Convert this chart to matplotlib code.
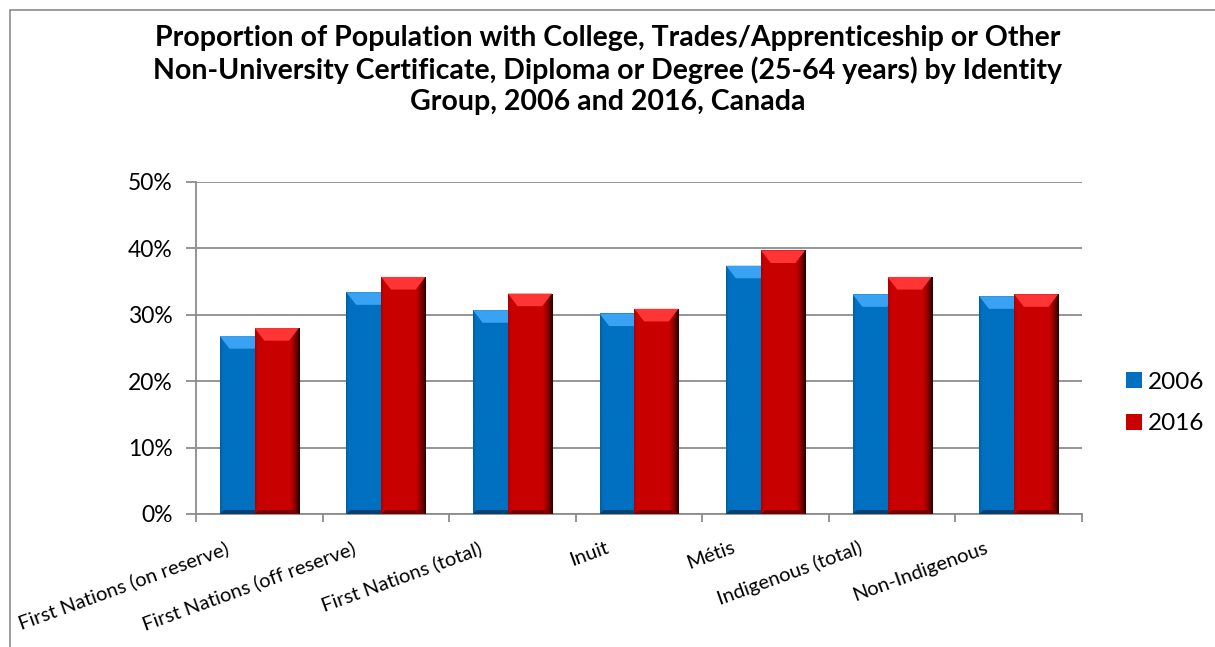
import numpy as np
import matplotlib
matplotlib.use("Agg")
import matplotlib.pyplot as plt
import matplotlib.transforms as mtransforms
from matplotlib.patches import Patch, Polygon, Rectangle
from matplotlib.ticker import PercentFormatter, FixedLocator
from matplotlib.colors import to_rgb

plt.rcParams['font.family'] = ['Lato', 'DejaVu Sans']

# data
categories = ["First Nations (on reserve)", "First Nations (off reserve)",
              "First Nations (total)", "Inuit", "Métis",
              "Indigenous (total)", "Non-Indigenous"]
vals_2006 = [26.8, 33.4, 30.7, 30.2, 37.4, 33.1, 32.8]
vals_2016 = [28.0, 35.7, 33.2, 30.9, 39.7, 35.7, 33.1]
series = ["2006", "2016"]

title = ("Proportion of Population with College, Trades/Apprenticeship or Other\n"
         "Non-University Certificate, Diploma or Degree (25-64 years) by Identity\n"
         "Group, 2006 and 2016, Canada")

blue = "#0070C0"
red = "#C80000"
blue_cap = "#3AA2F2"
red_cap = "#FF3535"

fig = plt.figure(figsize=(12.15, 6.47), dpi=100)
ax = fig.add_axes([196/1215, 1-514/647, (1082-196)/1215, (514-182)/647])

# outer chart border (right and bottom edges fall outside the picture)
fig.patches.append(Rectangle((10/1215, -0.02), 1.05, 1-10/647+0.02,
                             transform=fig.transFigure, fill=False,
                             edgecolor="#8c8c8c", linewidth=1.2))

x = np.arange(len(categories))
w = 0.348
off = 0.138


def shade(ax, rect, base, cap, edge_dark):
    # fake the Excel bevel look: darker right edge, light top cap, dark foot
    bx, by = rect.get_x(), rect.get_y()
    bw, bh = rect.get_width(), rect.get_height()
    rgb = np.array(to_rgb(base))
    t = np.linspace(0, 1, 80)
    f = np.ones_like(t)
    f[t > 0.78] = 1 - (1 - edge_dark) * ((t[t > 0.78] - 0.78) / 0.22) ** 1.3
    f[t < 0.06] = 0.85 + 0.15 * t[t < 0.06] / 0.06
    arr = np.clip(rgb[None, None, :] * f[None, :, None], 0, 1)
    arr = np.repeat(arr, 2, axis=0)
    img = ax.imshow(arr, extent=[bx, bx + bw, by, by + bh], aspect='auto',
                    zorder=rect.get_zorder() + 0.1, interpolation='bilinear')
    img.set_clip_path(rect)
    ch = 0.019
    ins = 0.22 * bw
    top = by + bh
    ax.add_patch(Polygon([(bx, top), (bx + bw, top), (bx + bw - ins, top - ch),
                          (bx + ins, top - ch)], closed=True, facecolor=cap,
                         edgecolor='none', zorder=rect.get_zorder() + 0.2))
    dark = np.clip(rgb * 0.6, 0, 1)
    fh = 0.006
    ax.add_patch(Polygon([(bx, by), (bx + bw, by), (bx + bw - ins * 0.4, by + fh),
                          (bx + ins * 0.4, by + fh)], closed=True, facecolor=dark,
                         edgecolor='none', zorder=rect.get_zorder() + 0.2))


bars1 = ax.bar(x - off, np.array(vals_2006) / 100, w, color=blue, zorder=3)
bars2 = ax.bar(x + off, np.array(vals_2016) / 100, w, color=red, zorder=4)
for r in bars1:
    shade(ax, r, blue, blue_cap, 0.55)
for r in bars2:
    shade(ax, r, red, red_cap, 0.2)

ax.set_xlim(-0.5, len(categories) - 0.5)
ax.set_ylim(0, 0.5)
ax.set_yticks(np.arange(0, 0.51, 0.1))
ax.yaxis.set_major_formatter(PercentFormatter(1.0, decimals=0))
ax.grid(axis='y', color="#8c8c8c", linewidth=1.3, zorder=0)
ax.set_axisbelow(True)

for s in ['top', 'right']:
    ax.spines[s].set_visible(False)
for s in ['left', 'bottom']:
    ax.spines[s].set_color("#8c8c8c")
    ax.spines[s].set_linewidth(1.3)

ax.set_xticks(x)
ax.xaxis.set_minor_locator(FixedLocator(np.arange(-0.5, len(categories), 1.0)))
ax.tick_params(axis='x', which='major', length=0, pad=18)
ax.tick_params(axis='x', which='minor', length=6, color="#8c8c8c", width=1.3)
ax.tick_params(axis='y', length=7, color="#8c8c8c", width=1.3, labelsize=16.5, pad=10)
ax.set_xticklabels(categories, rotation=20, ha='right', rotation_mode='anchor',
                   fontsize=14.5)
shift = mtransforms.ScaledTranslation(-34/100, 0, fig.dpi_scale_trans)
for lbl in ax.get_xticklabels():
    lbl.set_transform(lbl.get_transform() + shift)

fig.text(0.5, 1 - 25/647, title, ha='center', va='top', fontsize=20.5,
         fontweight='bold', linespacing=1.25)

handles = [Patch(facecolor=blue, edgecolor='none'), Patch(facecolor=red, edgecolor='none')]
fig.legend(handles, series, loc='center left', bbox_to_anchor=(1114/1215, 1 - 403/647),
           frameon=False, fontsize=17.5, handlelength=0.65, handleheight=0.65,
           handletextpad=0.25, labelspacing=0.85, borderpad=0)

fig.savefig("out.png", dpi=100)
